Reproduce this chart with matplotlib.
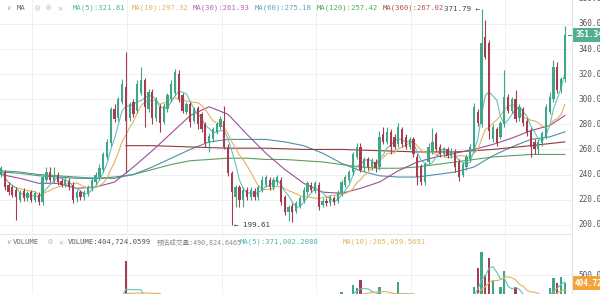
import matplotlib
matplotlib.use('Agg')
import matplotlib.pyplot as plt
import numpy as np
import pandas as pd

# ---------------- data ----------------
open_ = [240, 242, 232, 230, 228, 220, 227, 221, 226, 220, 224, 218, 236, 242, 235, 240, 235, 232, 235, 232,
         221, 226, 222, 225, 229, 234, 238, 244, 254, 265, 292, 285, 298, 310, 285, 298, 291, 305, 315, 292,
         306, 285, 294, 282, 292, 300, 305, 320, 303, 290, 296, 283, 293, 288, 280, 265, 268, 274, 278, 283,
         262, 241, 222, 230, 220, 228, 222, 227, 222, 228, 232, 236, 230, 234, 236, 222, 210, 215, 211, 215,
         219, 226, 232, 227, 232, 216, 219, 217, 221, 219, 225, 232, 236, 242, 254, 262, 246, 252, 246, 250,
         246, 272, 266, 274, 270, 264, 276, 270, 262, 268, 254, 246, 234, 250, 258, 272, 262, 256, 260, 255,
         258, 250, 240, 246, 252, 260, 290, 280, 350, 345, 268, 276, 270, 280, 302, 291, 300, 285, 292, 283,
         275, 266, 260, 265, 270, 290, 300, 326, 307, 316]
high = [247, 244, 234, 232, 230, 228, 229, 227, 228, 227, 226, 240, 246, 246, 246, 242, 237, 238, 237, 234,
        228, 228, 228, 232, 238, 242, 248, 258, 268, 294, 296, 302, 316, 338, 298, 300, 315, 326, 317, 308,
        308, 302, 296, 297, 305, 315, 324, 323, 305, 298, 298, 294, 295, 290, 282, 273, 278, 282, 287, 295,
        264, 243, 232, 232, 230, 230, 230, 229, 232, 239, 240, 238, 238, 240, 238, 224, 216, 217, 219, 223,
        230, 235, 234, 235, 234, 221, 221, 224, 223, 228, 236, 240, 244, 258, 265, 265, 254, 254, 253, 252,
        275, 278, 278, 276, 272, 281, 278, 272, 270, 270, 256, 248, 250, 265, 277, 274, 264, 262, 262, 261,
        260, 252, 250, 256, 264, 297, 292, 371.79, 363, 347, 280, 278, 283, 323, 304, 302, 307, 296, 294, 285,
        277, 268, 268, 275, 296, 306, 331, 330, 318, 358]
low = [238, 228, 224, 222, 204, 218, 219, 219, 218, 218, 216, 216, 234, 234, 233, 232, 230, 230, 228, 217,
       218, 220, 220, 223, 227, 232, 236, 242, 252, 263, 282, 283, 296, 241, 283, 286, 289, 303, 278, 290,
       280, 283, 274, 280, 290, 298, 303, 298, 289, 288, 278, 281, 276, 274, 262, 258, 266, 272, 276, 260,
       239, 199.61, 214, 214, 214, 220, 220, 220, 220, 226, 230, 228, 228, 232, 216, 208, 203, 202, 209, 213,
       217, 224, 226, 225, 212, 214, 215, 215, 216, 217, 223, 230, 234, 240, 252, 242, 243, 244, 244, 242,
       244, 264, 264, 256, 260, 262, 262, 260, 260, 254, 232, 232, 232, 248, 256, 258, 254, 254, 253, 253,
       242, 235, 238, 244, 250, 258, 279, 278, 332, 268, 266, 263, 268, 278, 289, 289, 282, 283, 279, 271,
       254, 256, 256, 263, 268, 288, 298, 305, 305, 314]
close = [245, 230, 226, 224, 222, 226, 221, 225, 220, 225, 218, 238, 242, 236, 240, 234, 232, 236, 230, 220,
         226, 222, 226, 230, 236, 240, 245, 256, 266, 292, 284, 300, 312, 283, 296, 288, 312, 315, 294, 306,
         285, 300, 281, 295, 303, 312, 322, 300, 291, 296, 282, 292, 280, 276, 265, 271, 276, 280, 284, 262,
         241, 226, 230, 220, 228, 222, 228, 222, 230, 236, 238, 230, 236, 238, 218, 210, 214, 210, 217, 221,
         228, 233, 228, 233, 214, 219, 217, 222, 218, 226, 234, 238, 242, 256, 262, 244, 252, 246, 251, 245,
         270, 266, 274, 262, 262, 278, 264, 262, 268, 256, 238, 234, 248, 262, 266, 260, 256, 260, 255, 259,
         246, 238, 248, 254, 262, 294, 281, 345, 334, 275, 278, 265, 281, 302, 291, 300, 284, 294, 281, 273,
         262, 260, 266, 273, 294, 302, 326, 307, 316, 351.34]
volume_k = [210, 230, 190, 170, 250, 180, 160, 150, 170, 160, 190, 250, 240, 200, 190, 170, 160, 150, 170, 230,
            180, 160, 170, 180, 200, 210, 230, 240, 240, 260, 240, 240, 250, 666, 240, 230, 240, 250, 250, 240,
            230, 220, 240, 220, 230, 240, 250, 230, 220, 200, 230, 200, 220, 210, 240, 220, 200, 210, 220, 240,
            250, 265, 240, 220, 210, 190, 180, 170, 190, 210, 200, 180, 190, 200, 240, 230, 220, 200, 190, 200,
            210, 230, 210, 200, 240, 200, 180, 170, 190, 180, 300, 250, 260, 380, 345, 440, 260, 250, 240, 245,
            357, 250, 250, 250, 240, 416, 240, 240, 230, 245, 250, 240, 235, 245, 240, 230, 220, 200, 210, 200,
            240, 250, 230, 235, 240, 357, 583, 773, 500, 702, 440, 260, 357, 547, 250, 250, 357, 240, 250, 235,
            240, 225, 220, 235, 260, 345, 464, 405, 476, 404.72]

ma_idx = [0, 5, 10, 15, 20, 25, 30, 35, 40, 45, 50, 55, 60, 65, 70, 75, 80, 85, 90, 95,
          100, 105, 110, 115, 120, 125, 130, 135, 140, 145, 149]
ma30 = [240, 237, 233, 233, 229, 230, 234, 246, 259, 273, 287, 294, 288, 272, 257, 244, 233, 226, 225, 229,
        234, 243, 250, 254, 257, 260, 264, 269, 275, 279, 287]
ma60 = [242, 241, 239, 238, 237, 237, 238, 240, 246, 253, 260, 266, 268, 268, 268, 266, 263, 257, 249, 243,
        239, 238, 238, 240, 242, 246, 255, 262, 268, 270, 274]
ma120 = [243, 242, 240, 239, 238, 237, 237, 240, 244, 248, 251, 252, 253, 253, 252, 252, 251, 250, 248, 246,
         245, 245, 246, 248, 250, 252, 254, 255, 256, 256, 256]
ma360_idx = [33, 40, 50, 60, 70, 80, 90, 100, 110, 120, 130, 140, 149]
ma360 = [263, 263, 262, 261, 261, 260, 260, 259, 258, 258, 260, 263, 266]

price_ticks = [200, 220, 240, 260, 280, 300, 320, 340, 360, 380]
grid_x = [8.2, 33.3, 58.4, 83.2, 108.3, 133.2]

UP = '#3fa687'
DOWN = '#a63d4f'
C_MA5 = '#62c3bd'
C_MA10 = '#e3b25e'
C_MA30 = '#9b4f96'
C_MA60 = '#4f8fa8'
C_MA120 = '#5e9e5e'
C_MA360 = '#8f3b3b'
GRID = '#eef0f4'
MONO = ['DejaVu Sans Mono', 'Noto Sans CJK SC']

# ---------------- figure ----------------
W, H = 600, 294
fig = plt.figure(figsize=(6, 2.94), dpi=100)
fig.patch.set_facecolor('white')

def fx(px):
    return px / W

def fy(py):
    return 1 - py / H

o = np.array(open_, float)
h = np.array(high, float)
l = np.array(low, float)
c = np.array(close, float)
idx = np.arange(len(c))
cols = np.where(c >= o, UP, DOWN)

XL = (-0.26, 150.9)

# main price pane
ax = fig.add_axes([0, fy(233), fx(572), 233 / H])
ax.set_xlim(*XL)
ax.set_ylim(193.4, 379.1)
ax.axis('off')
for v in price_ticks:
    ax.axhline(v, color=GRID, lw=0.7, zorder=0)
for gx in grid_x:
    ax.axvline(gx, color=GRID, lw=0.7, zorder=0)

ma5 = pd.Series(c).rolling(5, min_periods=1).mean()
ma10 = pd.Series(c).rolling(10, min_periods=1).mean()
ax.plot(ma_idx, ma120, color=C_MA120, lw=0.8, zorder=2)
ax.plot(ma_idx, ma60, color=C_MA60, lw=0.8, zorder=2)
ax.plot(ma360_idx, ma360, color=C_MA360, lw=0.8, zorder=2)
ax.plot(ma_idx, ma30, color=C_MA30, lw=0.8, zorder=2)
ax.plot(idx, ma10, color=C_MA10, lw=0.8, zorder=2)
ax.plot(idx, ma5, color=C_MA5, lw=0.8, zorder=2)

ax.vlines(idx, l, h, colors=cols, lw=0.8, zorder=3)
ax.bar(idx, np.maximum(np.abs(c - o), 0.5), bottom=np.minimum(o, c), width=0.6,
       color=cols, linewidth=0, zorder=4)

# right price labels
ytr = ax.get_yaxis_transform()
for v in price_ticks:
    ax.text(1 + 6 / 572, v, f"{v:.2f}", transform=ytr, fontsize=5.6, color='#555555',
            va='center', ha='left', clip_on=False, family=MONO)
ax.plot([1 - 4 / 572, 1.0], [c[-1], c[-1]], transform=ytr, color=UP, lw=0.8, clip_on=False)
ax.text(1 + 3 / 572, c[-1], f"{c[-1]:.2f}", transform=ytr, fontsize=5.6, color='white',
        va='center', ha='left', clip_on=False, family=MONO, weight='bold',
        bbox=dict(boxstyle='square,pad=0.3', fc='#52b08e', ec='none'))

# extreme labels
imin = int(np.argmin(l))
ax.text(imin + 0.5, l[imin], f"\u2190 {l[imin]:.2f}", fontsize=5.4, color='#444444',
        va='center', ha='left', family=MONO, zorder=6)
imax = int(np.argmax(h))
ax.text(imax - 0.5, h[imax], f"{h[imax]:.2f} \u2190", fontsize=5.4, color='#444444',
        va='center', ha='right', family=MONO, zorder=6)

# volume pane
vol = np.array(volume_k, float)
axv = fig.add_axes([0, 0, fx(572), (294 - 236) / H])
axv.set_xlim(*XL)
axv.set_ylim(274, 964)
axv.axis('off')
axv.axhline(500, color=GRID, lw=0.7, zorder=0)
for gx in grid_x:
    axv.axvline(gx, color=GRID, lw=0.7, zorder=0)
axv.bar(idx, vol, width=0.6, color=cols, linewidth=0, zorder=3)
axv.plot(idx, pd.Series(vol).rolling(5, min_periods=1).mean(), color=C_MA5, lw=0.8, zorder=4)
axv.plot(idx, pd.Series(vol).rolling(10, min_periods=1).mean(), color=C_MA10, lw=0.8, zorder=4)
vtr = axv.get_yaxis_transform()
axv.text(1 + 6 / 572, 500, "500.00K", transform=vtr, fontsize=5.6, color='#555555',
         va='center', ha='left', clip_on=False, family=MONO)
axv.text(1 + 3 / 572, vol[-1], f"{vol[-1]:.2f}K", transform=vtr, fontsize=5.6, color='white',
         va='center', ha='left', clip_on=False, family=MONO, weight='bold',
         bbox=dict(boxstyle='square,pad=0.3', fc='#f2a33a', ec='none'))

# separators
fig.add_artist(plt.Line2D([fx(572), fx(572)], [0, 1], transform=fig.transFigure, color='#dfe2e8', lw=0.8))
fig.add_artist(plt.Line2D([0, fx(572)], [fy(234), fy(234)], transform=fig.transFigure, color='#e3e6ec', lw=0.8))

# header texts
def ftxt(x, y, s, color, size=5.2):
    fig.text(fx(x), fy(y), s, color=color, fontsize=size, va='center', ha='left', family=MONO)

ftxt(6, 8, "\u2228", '#aaaaaa')
ftxt(17, 8, "MA", '#666666')
ftxt(35, 8, "\u25ce", '#bbbbbb', 6)
ftxt(46, 8, "\u2699", '#bbbbbb', 6)
ftxt(57, 8, "\u2715", '#bbbbbb', 6)
ftxt(73, 8, "MA(5):321.81", '#4db6ac')
ftxt(132, 8, "MA(10):297.32", '#e0b55a')
ftxt(193, 8, "MA(30):261.93", '#b565b5')
ftxt(255, 8, "MA(60):275.18", '#5aa6b5')
ftxt(317, 8, "MA(120):257.42", '#4caf50')
ftxt(383, 8, "MA(360):267.02", '#b05050')

ftxt(6, 242, "\u2228", '#aaaaaa')
ftxt(13, 242, "VOLUME", '#666666')
ftxt(48, 242, "\u2699", '#bbbbbb', 6)
ftxt(58, 242, "\u2715", '#bbbbbb', 6)
ftxt(68, 242, "VOLUME:404,724.0599", '#555555')
ftxt(157, 242, "预估成交量:490,824.6465", '#8a8a8a', 4.8)
ftxt(240, 242, "MA(5):371,002.2080", '#4db6ac')
ftxt(343, 242, "MA(10):265,059.5691", '#e0b55a')

fig.savefig('out.png', dpi=100, facecolor='white')
